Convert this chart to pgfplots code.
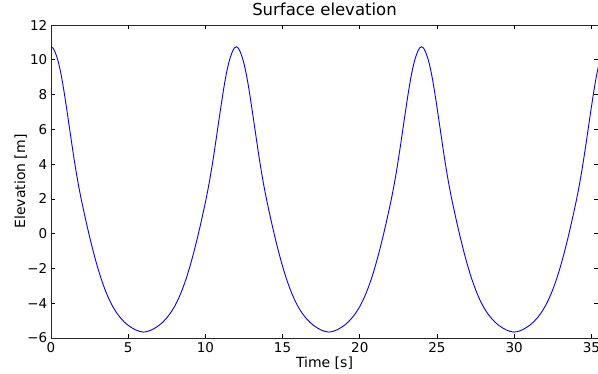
\documentclass[border=0pt]{standalone}
\usepackage{fontspec}
\setmainfont{DejaVu Sans}
\usepackage{pgfplots}
\pgfplotsset{compat=1.18}
\begin{document}
\begin{tikzpicture}
\path[use as bounding box] (-51pt,-36pt) rectangle (547pt,338pt);
\begin{axis}[
  scale only axis,
  width=547pt, height=313pt,
  xmin=0, xmax=35.43, ymin=-6, ymax=12,
  xtick={0,5,10,15,20,25,30,35},
  ytick={-6,-4,-2,0,2,4,6,8,10,12},
  yticklabels={−6,−4,−2,0,2,4,6,8,10,12},
  /pgf/number format/assume math mode=true,
  tick align=inside, tick pos=both,
  major tick length=4pt,
  every tick/.style={black, line width=0.6pt},
  axis line style={black!85, line width=0.8pt},
  tick label style={font=\fontsize{13.5}{14}\selectfont, inner sep=0pt},
  yticklabel style={anchor=east, xshift=-3.5pt},
  xticklabel style={anchor=north, yshift=-4.5pt},
  title={Surface elevation},
  title style={at={(axis description cs:0.5,1.0096)}, anchor=base, font=\fontsize{16.5}{18}\selectfont, inner sep=0pt},
  xlabel={Time [s]},
  xlabel style={at={(axis description cs:0.5,-0.0958)}, anchor=base, font=\fontsize{14}{16}\selectfont, inner sep=0pt},
  ylabel={Elevation [m]},
  ylabel style={at={(axis description cs:-0.0475,0.5)}, rotate=0, anchor=base, font=\fontsize{14}{16}\selectfont, inner sep=0pt},
]
\addplot[blue, line width=0.9pt, smooth, tension=0.3] table {
x y
0 10.75
0.125 10.68
0.25 10.47
0.375 10.17
0.5 9.78
0.625 9.28
0.75 8.68
0.875 8.0
1 7.27
1.125 6.52
1.25 5.76
1.375 5.0
1.5 4.27
1.625 3.58
1.75 2.94
1.875 2.35
2 1.8
2.25 0.78
2.5 -0.18
2.75 -1.07
3 -1.88
3.25 -2.6
3.5 -3.22
3.75 -3.75
4 -4.19
4.25 -4.55
4.5 -4.84
4.75 -5.08
5 -5.27
5.25 -5.42
5.5 -5.54
5.75 -5.62
6 -5.66
6.25 -5.62
6.5 -5.54
6.75 -5.42
7 -5.27
7.25 -5.08
7.5 -4.84
7.75 -4.55
8 -4.19
8.25 -3.75
8.5 -3.22
8.75 -2.6
9 -1.88
9.25 -1.07
9.5 -0.18
9.75 0.78
10 1.8
10.125 2.35
10.25 2.94
10.375 3.58
10.5 4.27
10.625 5.0
10.75 5.76
10.875 6.52
11 7.27
11.125 8.0
11.25 8.68
11.375 9.28
11.5 9.78
11.625 10.17
11.75 10.47
11.875 10.68
12 10.75
12.125 10.68
12.25 10.47
12.375 10.17
12.5 9.78
12.625 9.28
12.75 8.68
12.875 8.0
13 7.27
13.125 6.52
13.25 5.76
13.375 5.0
13.5 4.27
13.625 3.58
13.75 2.94
13.875 2.35
14 1.8
14.25 0.78
14.5 -0.18
14.75 -1.07
15 -1.88
15.25 -2.6
15.5 -3.22
15.75 -3.75
16 -4.19
16.25 -4.55
16.5 -4.84
16.75 -5.08
17 -5.27
17.25 -5.42
17.5 -5.54
17.75 -5.62
18 -5.66
18.25 -5.62
18.5 -5.54
18.75 -5.42
19 -5.27
19.25 -5.08
19.5 -4.84
19.75 -4.55
20 -4.19
20.25 -3.75
20.5 -3.22
20.75 -2.6
21 -1.88
21.25 -1.07
21.5 -0.18
21.75 0.78
22 1.8
22.125 2.35
22.25 2.94
22.375 3.58
22.5 4.27
22.625 5.0
22.75 5.76
22.875 6.52
23 7.27
23.125 8.0
23.25 8.68
23.375 9.28
23.5 9.78
23.625 10.17
23.75 10.47
23.875 10.68
24 10.75
24.125 10.68
24.25 10.47
24.375 10.17
24.5 9.78
24.625 9.28
24.75 8.68
24.875 8.0
25 7.27
25.125 6.52
25.25 5.76
25.375 5.0
25.5 4.27
25.625 3.58
25.75 2.94
25.875 2.35
26 1.8
26.25 0.78
26.5 -0.18
26.75 -1.07
27 -1.88
27.25 -2.6
27.5 -3.22
27.75 -3.75
28 -4.19
28.25 -4.55
28.5 -4.84
28.75 -5.08
29 -5.27
29.25 -5.42
29.5 -5.54
29.75 -5.62
30 -5.66
30.25 -5.62
30.5 -5.54
30.75 -5.42
31 -5.27
31.25 -5.08
31.5 -4.84
31.75 -4.55
32 -4.19
32.25 -3.75
32.5 -3.22
32.75 -2.6
33 -1.88
33.25 -1.07
33.5 -0.18
33.75 0.78
34 1.8
34.125 2.35
34.25 2.94
34.375 3.58
34.5 4.27
34.625 5.0
34.75 5.76
34.875 6.52
35 7.27
35.125 8.0
35.25 8.68
35.375 9.28
35.5 9.78
};
\end{axis}
\end{tikzpicture}
\end{document}
